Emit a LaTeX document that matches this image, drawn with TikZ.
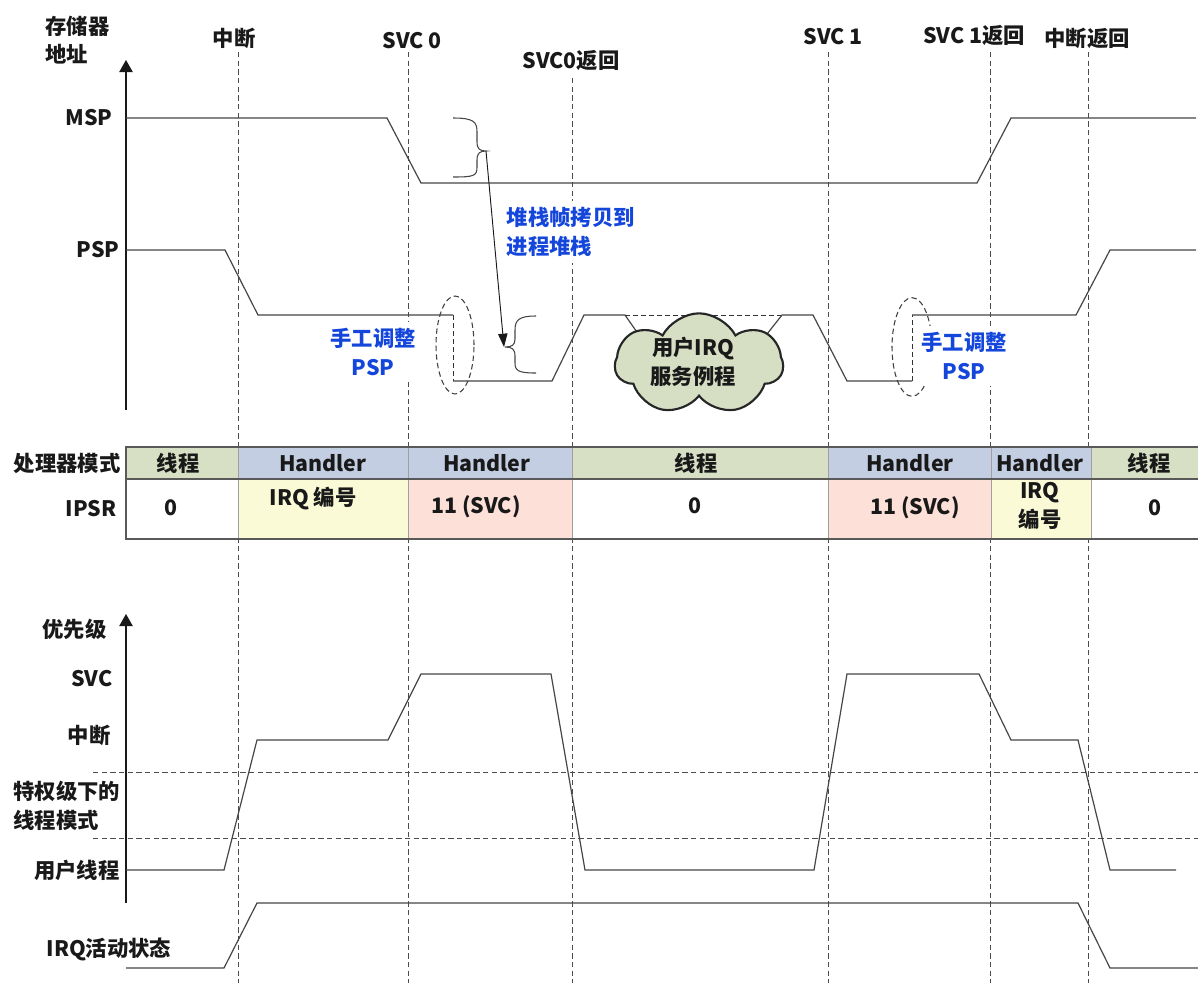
\documentclass[tikz,border=0pt]{standalone}
\usepackage{fontspec}
\setmainfont{Noto Sans CJK SC}
\usetikzlibrary{arrows.meta,shapes.geometric,shapes.symbols}
\definecolor{modeG}{RGB}{215,224,196}
\definecolor{modeB}{RGB}{195,206,227}
\definecolor{ipsrP}{RGB}{253,224,216}
\definecolor{ipsrY}{RGB}{250,250,215}
\definecolor{cloudG}{RGB}{214,222,195}
\definecolor{noteblue}{RGB}{20,70,220}
\definecolor{ink}{RGB}{25,25,25}
\definecolor{wavec}{RGB}{70,70,70}
\tikzset{
  lbl/.style={font=\fontsize{16}{21.5}\selectfont\bfseries, text=ink, inner sep=1pt},
  note/.style={font=\fontsize{16}{21.5}\selectfont\bfseries, text=noteblue, fill=white, inner sep=5pt},
  wave/.style={draw=wavec, line width=0.9pt},
  wavedash/.style={draw=black!80, line width=0.7pt, dash pattern=on 4pt off 2pt},
  guide/.style={draw=black!70, line width=0.6pt, dash pattern=on 4pt off 2.5pt},
  axisarrow/.style={draw=ink, line width=0.9pt, -{Triangle[width=10pt,length=9pt]}},
  ovalmark/.style={ellipse, draw=black!75, line width=0.8pt, dash pattern=on 4pt off 2.5pt, inner sep=0pt},
  tcell/.style={font=\fontsize{16}{20}\selectfont\bfseries, text=ink, inner sep=1pt, align=center},
}
\begin{document}
\begin{tikzpicture}[x=0.75pt,y=-0.75pt]
\useasboundingbox (0,0) rectangle (1198,983);
\fill[white] (0,0) rectangle (1198,983);

% event labels and guide lines
\node[lbl] (e1) at (234,38) {中断};
\node[lbl] (e2) at (412,41) {SVC 0};
\node[lbl] (e3) at (571,61) {SVC0返回};
\node[lbl] (e4) at (833,37) {SVC 1};
\node[lbl] (e5) at (974,36) {SVC 1返回};
\node[lbl] (e6) at (1087,38) {中断返回};
\foreach \n/\x/\y in {g1/238/52, g2/408/52, g3/572/78, g4/828/52, g5/990/52, g6/1088/52}{
  \coordinate (\n t) at (\x,\y);
  \coordinate (\n b) at (\x,983);
  \draw[guide] (\n t) -- (\n b);
}

% ---------- memory address section ----------
\node[lbl, anchor=west, align=left] (memlbl) at (44,40) {存储器\\地址};
\coordinate (ax1b) at (126,410);
\coordinate (ax1t) at (126,60);
\draw[axisarrow] (ax1b) -- (ax1t);
\node[lbl, anchor=east] (msp) at (114,118) {MSP};
\node[lbl, anchor=east] (psp) at (121,250) {PSP};

% MSP waveform
\draw[wave] (126,118) -- (387,118) -- (421,183) -- (977,183) -- (1011,118) -- (1196,118);

% PSP waveform
\draw[wave] (126,250) -- (225,250) -- (258,315) -- (453,315);
\draw[wavedash] (453,315) -- (453,381);
\draw[wave] (453,381) -- (552,381) -- (584,315) -- (625,315) -- (648,348);
\draw[wavedash] (625,315) -- (782,315);
\draw[wave] (756,348) -- (782,315) -- (813,315) -- (847,381) -- (912,381);
\draw[wavedash] (912,381) -- (912,315);
\draw[wave] (912,315) -- (1076,315) -- (1110,250) -- (1196,250);

% dashed ovals
\node[ovalmark, minimum width=28.5pt, minimum height=73.5pt] (ov1) at (455,345) {};
\node[ovalmark, minimum width=30pt, minimum height=74pt] (ov2) at (912,347) {};

% braces
\draw[wave, line width=0.8pt] (453,118) .. controls (474,118) and (477,122) .. (477,132) -- (477,142)
  .. controls (477,149) and (480,151) .. (486,151)
  .. controls (480,151) and (477,153) .. (477,160) -- (477,167)
  .. controls (477,176) and (474,177) .. (453,177);
\coordinate (brA) at (486,151);
\draw[wave, line width=0.8pt] (536,316) .. controls (519,316) and (515,320) .. (515,330) -- (515,339)
  .. controls (515,345) and (512,347) .. (505,347)
  .. controls (512,347) and (515,349) .. (515,356) -- (515,363)
  .. controls (515,371) and (519,373) .. (536,373);
\coordinate (brB) at (504,347);
\draw[draw=ink, line width=0.7pt, -{Triangle[width=7pt,length=10pt]}] (brA) -- (brB);

% notes
\node[note, anchor=west, align=left] (copy) at (500,232) {堆栈帧拷贝到\\进程堆栈};
\node[note, align=center] (adj1) at (373,352) {手工调整\\PSP};
\node[note, align=center] (adj2) at (964,356) {手工调整\\PSP};

% cloud
\node[cloud, cloud puffs=7, cloud puff arc=125, aspect=1.6, draw=black!85, line width=1.6pt,
      fill=cloudG, minimum width=126pt, minimum height=76pt, inner sep=0pt] (irq) at (699,364) {};
\node[font=\fontsize{16}{21.5}\selectfont\bfseries, text=ink, align=center, inner sep=0pt] (irqtxt) at (693,362) {用户IRQ\\服务例程};

% ---------- table ----------
\fill[modeG] (126,447) rectangle (238,479);
\fill[modeB] (238,447) rectangle (572,479);
\fill[modeG] (572,447) rectangle (828,479);
\fill[modeB] (828,447) rectangle (1091,479);
\fill[modeG] (1091,447) rectangle (1198,479);
\fill[white] (126,479) rectangle (1198,539);
\fill[ipsrY] (238,479) rectangle (408,539);
\fill[ipsrP] (408,479) rectangle (572,539);
\fill[ipsrP] (828,479) rectangle (991,539);
\fill[ipsrY] (991,479) rectangle (1091,539);
\foreach \x in {238,408,572,828,991,1091}{
  \draw[gray!75, line width=0.6pt] (\x,447) -- (\x,539);
}
\draw[black!65, line width=1.1pt] (1198,447) -- (126,447) -- (126,539) -- (1198,539);
\draw[black!65, line width=1pt] (126,479) -- (1198,479);

\node[lbl, anchor=east] (modelbl) at (122,463) {处理器模式};
\node[lbl, anchor=east] (ipsrlbl) at (118,509) {IPSR};

\node[tcell] (m1) at (178,463) {线程};
\node[tcell] (m2) at (323,463) {Handler};
\node[tcell] (m3) at (487,463) {Handler};
\node[tcell] (m4) at (696,463) {线程};
\node[tcell] (m5) at (910,463) {Handler};
\node[tcell] (m6) at (1040,463) {Handler};
\node[tcell] (m7) at (1149,463) {线程};

\node[tcell] (p1) at (171,508) {0};
\node[tcell] (p2) at (313,499) {IRQ 编号};
\node[tcell] (p3) at (476,507) {11 (SVC)};
\node[tcell] (p4) at (695,506) {0};
\node[tcell] (p5) at (915,508) {11 (SVC)};
\node[tcell, font=\fontsize{16}{22}\selectfont\bfseries] (p6) at (1040,506) {IRQ\\编号};
\node[tcell] (p7) at (1155,508) {0};

% ---------- priority section ----------
\coordinate (ax2b) at (126,903);
\coordinate (ax2t) at (126,614);
\draw[axisarrow] (ax2b) -- (ax2t);
\node[lbl, anchor=east] (prilbl) at (108,629) {优先级};
\node[lbl, anchor=east] (svclbl) at (114,679) {SVC};
\node[lbl, anchor=east] (intlbl) at (112,735) {中断};
\node[lbl, anchor=west, align=left] (privlbl) at (12,806) {特权级下的\\线程模式};
\node[lbl, anchor=east] (userlbl) at (121,870) {用户线程};
\node[lbl, anchor=west] (irqlbl) at (45,949) {IRQ活动状态};

\coordinate (h1a) at (93,772);
\coordinate (h1b) at (1198,772);
\coordinate (h2a) at (93,838);
\coordinate (h2b) at (1198,838);
\draw[guide] (h1a) -- (h1b);
\draw[guide] (h2a) -- (h2b);

\draw[wave] (126,870) -- (224,870) -- (257,740) -- (388,740) -- (421,674) -- (551,674) -- (585,870)
  -- (814,870) -- (847,674) -- (979,674) -- (1011,740) -- (1078,740) -- (1110,870) -- (1176,870);
\draw[wave] (126,968) -- (224,968) -- (257,903) -- (1078,903) -- (1110,968) -- (1198,968);

\end{tikzpicture}
\end{document}
